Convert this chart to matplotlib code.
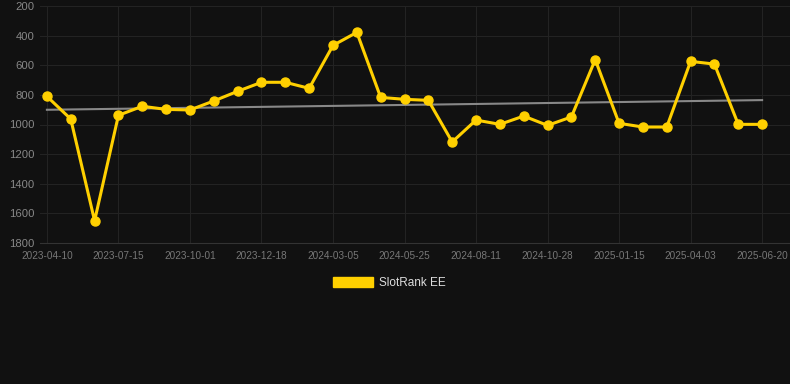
import matplotlib
matplotlib.use('Agg')
import matplotlib.pyplot as plt
import numpy as np
from matplotlib.patches import Patch

plt.rcParams['font.family'] = ['Liberation Sans', 'DejaVu Sans']

# rank per observation (lower is better, axis inverted)
ranks = [810, 963, 1650, 938, 877, 898, 902, 841, 776, 715, 715, 756, 466, 378, 817,
         830, 837, 1118, 970, 999, 943, 1006, 949, 562, 992, 1017, 1017, 574, 592, 999, 999]
tick_labels = ['2023-04-10', '2023-07-15', '2023-10-01', '2023-12-18', '2024-03-05',
               '2024-05-25', '2024-08-11', '2024-10-28', '2025-01-15', '2025-04-03',
               '2025-06-20']
series_name = 'SlotRank EE'

bg = '#111111'
gold = '#FFD000'

x = np.arange(len(ranks))
coef = np.polyfit(x, ranks, 1)
trend = np.polyval(coef, x)

fig = plt.figure(figsize=(7.9, 3.84), dpi=100, facecolor=bg)
ax = fig.add_axes([40/790, 1-243/384, 750/790, 237/384], facecolor=bg)

ax.plot(x, trend, color='#888888', lw=1.5, zorder=2)
ax.plot(x, ranks, color=gold, lw=2.2, marker='o', ms=6.5, zorder=3)

ax.set_ylim(1800, 200)
ax.set_yticks(np.arange(200, 1801, 200))
ax.set_xlim(-0.29, 31.17)
ax.set_xticks(x[::3])
ax.set_xticklabels(tick_labels)

ax.grid(True, color='#232323', lw=0.8)
ax.set_axisbelow(True)
for s in ['top', 'right', 'left']:
    ax.spines[s].set_visible(False)
ax.spines['bottom'].set_color('#333333')
ax.tick_params(axis='y', length=0, labelsize=8.1, labelcolor='#888888', pad=4)
ax.tick_params(axis='x', length=0, labelsize=7.2, labelcolor='#777777', pad=6)

fig.legend(handles=[Patch(color=gold)], labels=[series_name], loc='center',
           bbox_to_anchor=(0.5 - 6/790, 1-283/384), frameon=False, fontsize=8.5,
           labelcolor='#dddddd', handlelength=3.4, handleheight=1.0,
           handletextpad=0.5)

fig.savefig('out.png', dpi=100, facecolor=bg)
